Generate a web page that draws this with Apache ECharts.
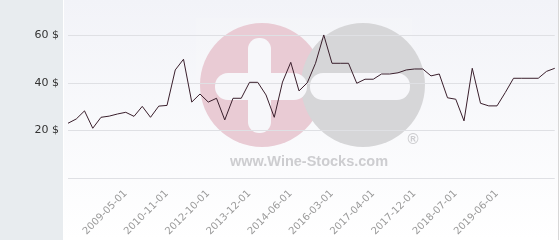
<!DOCTYPE html>
<html>
<head>
<meta charset="utf-8">
<script src="https://cdn.jsdelivr.net/npm/echarts@6/dist/echarts.min.js"></script>
<style>
html,body{margin:0;padding:0;background:#fff;}
#chart{width:560px;height:240px;}
</style>
</head>
<body>
<div id="chart"></div>
<script>
// Category dates (only the labelled ones are readable in the reference)
const categories = [
  '', '', '', '', '', '', '', '2009-05-01', '', '',
  '', '', '2010-11-01', '', '', '', '', '2012-10-01', '', '',
  '', '', '2013-12-01', '', '', '', '', '2014-06-01', '', '',
  '', '', '2016-03-01', '', '', '', '', '2017-04-01', '', '',
  '', '', '2017-12-01', '', '', '', '', '2018-07-01', '', '',
  '', '', '2019-06-01', '', '', '', '', '', '', ''
];
// Price in $
const prices = [
  23.0, 24.8, 28.2, 20.9, 25.5, 26.0, 26.9, 27.6, 25.9, 30.1,
  25.5, 30.2, 30.5, 45.4, 49.9, 31.9, 35.3, 31.9, 33.5, 24.4,
  33.5, 33.5, 40.2, 40.2, 34.9, 25.5, 40.3, 48.6, 36.6, 40.0,
  48.2, 60.1, 48.2, 48.2, 48.2, 39.8, 41.5, 41.5, 43.7, 43.7,
  44.2, 45.4, 45.8, 45.8, 42.9, 43.7, 33.7, 33.1, 24.0, 46.1,
  31.4, 30.3, 30.3, 35.9, 41.9, 41.9, 41.9, 41.9, 44.8, 46.1
];
const yMin = 0;
const yMax = 70;
const yStep = 20;

const chart = echarts.init(document.getElementById('chart'), null, {renderer: 'canvas'});
chart.setOption({
  animation: false,
  backgroundColor: '#ffffff',
  graphic: [
    {type: 'rect', shape: {x: 0, y: 0, width: 63, height: 240}, style: {fill: '#e8ecef'}, z: -20, silent: true},
    {type: 'rect', shape: {x: 63, y: 0, width: 1, height: 240}, style: {fill: '#ffffff'}, z: -20, silent: true},
    {type: 'rect', shape: {x: 64, y: 0, width: 494, height: 240},
     style: {fill: new echarts.graphic.LinearGradient(0, 0, 0, 1, [
       {offset: 0, color: '#f2f3f8'}, {offset: 1, color: '#ffffff'}])}, z: -20, silent: true},
    {type: 'rect', shape: {x: 558, y: 0, width: 1, height: 240}, style: {fill: '#d8d8d8'}, z: -20, silent: true},
    // watermark
    {type: 'rect', shape: {x: 196, y: 18, width: 216, height: 158}, style: {fill: 'rgba(255,255,255,0.1)'}, z: -15, silent: true},
    {type: 'circle', shape: {cx: 262, cy: 85, r: 62}, style: {fill: '#e9cbd4'}, z: -14, silent: true},
    {type: 'circle', shape: {cx: 363, cy: 85, r: 62}, style: {fill: '#d6d6d8'}, z: -13, silent: true},
    {type: 'rect', shape: {x: 248, y: 38, width: 23, height: 95, r: 11}, style: {fill: '#f7f7fa'}, z: -12, silent: true},
    {type: 'rect', shape: {x: 215, y: 73, width: 92, height: 27, r: 13}, style: {fill: '#f7f7fa'}, z: -12, silent: true},
    {type: 'rect', shape: {x: 310, y: 73, width: 100, height: 27, r: 13}, style: {fill: '#f7f7fa'}, z: -12, silent: true},
    {type: 'text', x: 230, y: 162, style: {text: 'www.Wine-Stocks.com', fill: '#cdcdd0',
      font: 'bold 14.5px "Liberation Sans", Arial, sans-serif', textVerticalAlign: 'middle'}, z: -12, silent: true},
    {type: 'text', x: 413, y: 140, style: {text: '®', fill: '#cdcdd0',
      font: 'bold 15px "Liberation Sans", Arial, sans-serif', textAlign: 'center', textVerticalAlign: 'middle'}, z: -12, silent: true}
  ],
  grid: {left: 68, right: 5.25, top: 11.4, bottom: 62, containLabel: false},
  xAxis: {
    type: 'category',
    data: categories,
    boundaryGap: false,
    axisLine: {show: false},
    axisTick: {show: false},
    splitLine: {show: false},
    axisLabel: {
      interval: 0,
      rotate: 45,
      margin: 14,
      color: '#9a9a9a',
      fontSize: 10,
      fontFamily: 'DejaVu Sans'
    }
  },
  yAxis: {
    type: 'value',
    min: yMin,
    max: yMax,
    interval: yStep,
    axisLine: {show: false},
    axisTick: {show: false},
    splitLine: {showMaxLine: false, lineStyle: {color: '#dfe0e4', width: 1}},
    axisLabel: {
      margin: 9,
      showMaxLabel: false,
      color: '#333333',
      fontSize: 11,
      fontFamily: 'DejaVu Sans',
      formatter: v => (v === 0 || v === yMax ? '' : v + ' $')
    }
  },
  series: [{
    type: 'line',
    data: prices,
    symbol: 'none',
    lineStyle: {color: '#3a1f2c', width: 1},
    z: 5
  }]
});
</script>
</body>
</html>
